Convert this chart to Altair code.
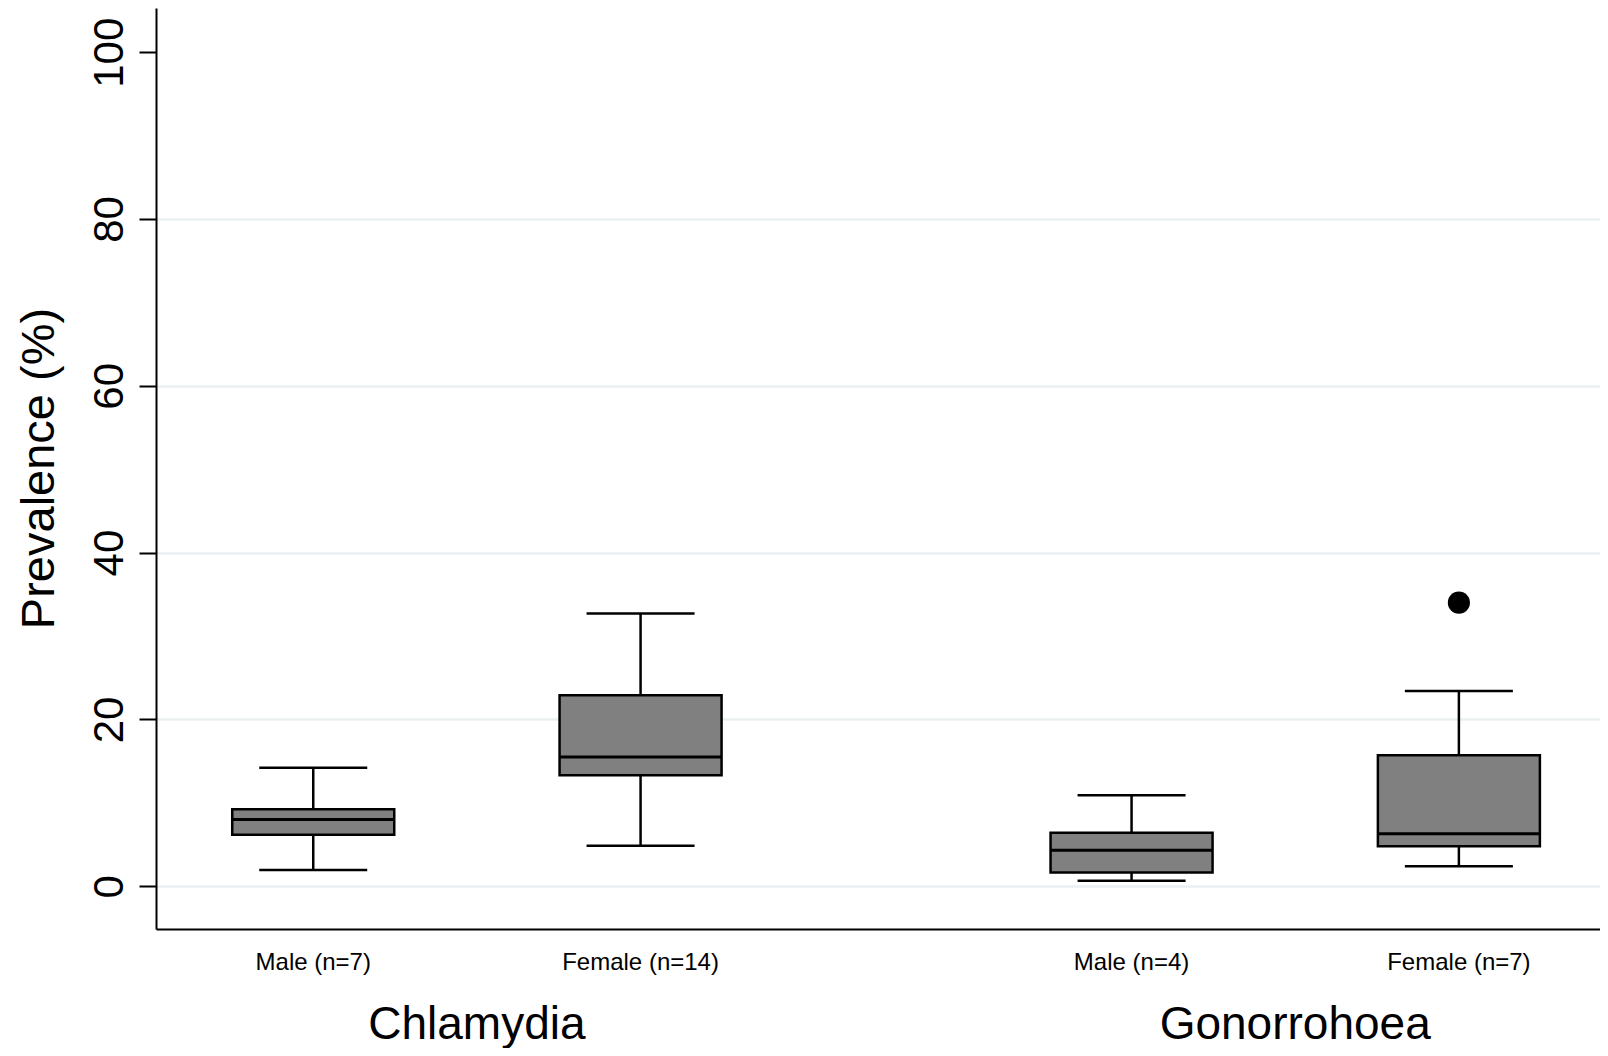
import altair as alt
import pandas as pd

# ---- data ----
disease = ["Chlamydia", "Chlamydia", "Gonorrohoea", "Gonorrohoea"]
sex = ["Male", "Female", "Male", "Female"]
sex_label = ["Male (n=7)", "Female (n=14)", "Male (n=4)", "Female (n=7)"]
whisker_low = [1.95, 4.86, 0.65, 2.4]
q1 = [6.17, 13.3, 1.64, 4.8]
median = [8.0, 15.5, 4.32, 6.3]
q3 = [9.24, 22.9, 6.4, 15.7]
whisker_high = [14.2, 32.7, 10.9, 23.4]

outlier_disease = ["Gonorrohoea"]
outlier_sex = ["Female"]
outlier_value = [34.0]

disease_order = ["Chlamydia", "Gonorrohoea"]
sex_order = ["Male", "Female"]
y_ticks = [0, 20, 40, 60, 80, 100]

df = pd.DataFrame({
    "disease": disease, "sex": sex, "sex_label": sex_label,
    "lo": whisker_low, "q1": q1, "median": median, "q3": q3, "hi": whisker_high,
})
odf = pd.DataFrame({"disease": outlier_disease, "sex": outlier_sex, "value": outlier_value})

FONT = "Liberation Sans"

x_enc = alt.X(
    "disease:N",
    scale=alt.Scale(domain=disease_order, paddingInner=0.35, paddingOuter=0.0573, align=0.586),
    axis=alt.Axis(
        title=None, labelFontSize=46, labelFont=FONT, labelColor="black", labelAngle=0,
        ticks=False, labelPadding=109, labelBaseline="alphabetic", labelLimit=600,
        domainColor="black", domainWidth=2, grid=False,
    ),
)
xo_enc = alt.XOffset(
    "sex:N", scale=alt.Scale(domain=sex_order, paddingInner=0.5, paddingOuter=0.0625)
)
y_scale = alt.Scale(domain=[-5.13, 105.3], nice=False, zero=False)
y_axis = alt.Axis(
    title="Prevalence (%)", values=y_ticks,
    labelAngle=270, labelAlign="center", labelBaseline="alphabetic",
    labelFontSize=42, labelFont=FONT, labelColor="black", labelPadding=17,
    tickSize=17, tickWidth=2, tickColor="black",
    domainColor="black", domainWidth=2,
    titleFont=FONT, titleFontSize=47, titleFontWeight="normal", titleColor="black",
    titleAngle=270, titleBaseline="alphabetic", titleAlign="center",
    titleX=-103, titleY=460, titleLimit=0,
    grid=True, gridColor="#eaf0f2", gridWidth=2.5,
    gridOpacity={"condition": {"test": "datum.value >= 100", "value": 0}, "value": 1},
    labelOverlap=False,
)


def Y(field):
    return alt.Y(field, type="quantitative", scale=y_scale, axis=y_axis)


base = alt.Chart(df)

whiskers = base.mark_rule(color="black", strokeWidth=2.5).encode(
    x=x_enc, xOffset=xo_enc, y=Y("lo"), y2="hi"
)
boxes = base.mark_bar(size=162, color="#808080", stroke="black", strokeWidth=2.5).encode(
    x=x_enc, xOffset=xo_enc, y=Y("q1"), y2="q3"
)
medians = base.mark_tick(size=162, thickness=3, color="black", opacity=1).encode(
    x=x_enc, xOffset=xo_enc, y=Y("median")
)
caps_lo = base.mark_tick(size=108, thickness=2.5, color="black", opacity=1).encode(
    x=x_enc, xOffset=xo_enc, y=Y("lo")
)
caps_hi = base.mark_tick(size=108, thickness=2.5, color="black", opacity=1).encode(
    x=x_enc, xOffset=xo_enc, y=Y("hi")
)
outliers = alt.Chart(odf).mark_circle(size=490, color="black", opacity=1).encode(
    x=x_enc, xOffset=xo_enc, y=Y("value")
)
labels = base.mark_text(fontSize=24, font=FONT, baseline="alphabetic", color="black").encode(
    x=x_enc, xOffset=xo_enc, y=alt.value(962), text="sex_label:N"
)

chart = (
    alt.layer(whiskers, boxes, medians, caps_lo, caps_hi, outliers, labels)
    .properties(
        width=1444, height=921,
        padding={"left": 148, "top": 0, "right": 0, "bottom": 119},
        autosize=alt.AutoSizeParams(type="none"),
        background="white",
    )
    .configure_view(strokeWidth=0)
)

chart.save("out.html", embed_options={"renderer": "svg", "actions": False})
